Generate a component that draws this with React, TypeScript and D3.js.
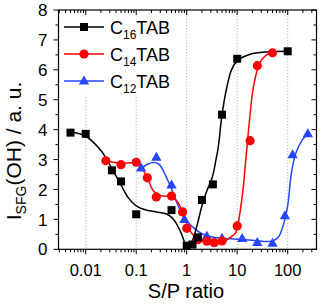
import * as d3 from "d3";

// measured points
const c16X = [0.005, 0.01, 0.033, 0.05, 0.1, 0.5, 1, 1.3, 1.66, 2, 3.3, 5, 10, 100];
const c16Y = [3.9, 3.86, 2.64, 2.27, 1.17, 1.31, 0.12, 0.16, 0.4, 1.65, 2.17, 4.5, 6.37, 6.62];

const c14X = [0.025, 0.05, 0.1, 0.166, 0.25, 0.5, 0.83, 1, 1.66, 2.5, 3.5, 5, 10, 18, 25, 50];
const c14Y = [2.96, 2.83, 2.91, 2.39, 1.75, 1.78, 1.25, 0.7, 0.32, 0.27, 0.22, 0.28, 0.78, 3.63, 6.14, 6.57];

const c12X = [0.125, 0.25, 0.5, 0.9, 2.5, 5, 12.5, 25, 50, 88, 125, 250];
const c12Y = [2.72, 3.08, 2.15, 1.0, 0.44, 0.37, 0.36, 0.23, 0.2, 1.12, 3.16, 3.86];

// fitted curves
const fit16X = [0.005, 0.01, 0.02, 0.033, 0.05, 0.07, 0.1, 0.15, 0.25, 0.4, 0.55, 0.75, 0.95, 1.05, 1.3, 1.6, 2, 2.5, 3.2, 3.8, 4.2, 5, 6.2, 7.7, 10, 18, 40, 100];
const fit16Y = [3.93, 3.78, 3.3, 2.7, 2.15, 1.72, 1.45, 1.32, 1.25, 1.18, 1.0, 0.6, 0.15, 0.03, 0.3, 0.8, 1.45, 1.95, 2.4, 3.0, 3.4, 4.5, 5.4, 6.0, 6.3, 6.52, 6.6, 6.62];

const fit14X = [0.025, 0.05, 0.1, 0.13, 0.17, 0.22, 0.3, 0.5, 0.65, 0.85, 1, 1.3, 1.7, 2.5, 4, 6, 8, 9.2, 12.3, 14.8, 17.8, 21, 28, 38, 50];
const fit14Y = [2.95, 2.88, 2.88, 2.7, 2.35, 1.95, 1.8, 1.75, 1.6, 1.2, 0.85, 0.5, 0.33, 0.25, 0.24, 0.3, 0.45, 0.53, 1.65, 2.99, 4.43, 5.44, 6.23, 6.5, 6.57];

const fit12X = [0.125, 0.17, 0.22, 0.28, 0.35, 0.45, 0.55, 0.7, 0.9, 1.3, 2, 3, 5, 10, 20, 35, 50, 65, 78, 99, 118, 144, 193, 250];
const fit12Y = [2.68, 2.85, 2.9, 2.85, 2.6, 2.2, 1.85, 1.4, 1.05, 0.75, 0.52, 0.42, 0.37, 0.34, 0.3, 0.26, 0.28, 0.4, 0.7, 1.42, 2.54, 3.2, 3.65, 3.86];

const xMajor = [0.01, 0.1, 1, 10, 100];
const xLabels = ["0.01", "0.1", "1", "10", "100"];
const yMajor = [0, 1, 2, 3, 4, 5, 6, 7, 8];

const BLACK = "#000000";
const RED = "#ff0000";
const BLUE = "#2646ff";
const FONT = "Arial, 'Liberation Sans', sans-serif";

const W = 321;
const H = 306;
const L = 58.5, R = 316.5, T = 10, B = 249.3;

type Pt = [number, number];

const App = () => {
  const x = d3.scaleLog().domain([Math.pow(10, -2.539), Math.pow(10, 2.57)]).range([L, R]);
  const y = d3.scaleLinear().domain([0, 8]).range([B, T]);

  const xTicks = x.ticks();
  const isMajor = (v: number) => Math.abs(Math.log10(v) - Math.round(Math.log10(v))) < 1e-6;
  const yMinor = d3.range(0.5, 8, 1);

  const line = d3.line<Pt>()
    .x(d => x(d[0]))
    .y(d => y(d[1]))
    .curve(d3.curveCatmullRom.alpha(0.5));

  const zip = (a: number[], b: number[]): Pt[] => a.map((v, i) => [v, b[i]]);

  const square = (cx: number, cy: number, key: string) => (
    <rect key={key} x={cx - 4} y={cy - 4} width={8} height={8} fill={BLACK} />
  );
  const circle = (cx: number, cy: number, key: string) => (
    <circle key={key} cx={cx} cy={cy} r={4.6} fill={RED} />
  );
  const triangle = (cx: number, cy: number, key: string) => (
    <path key={key} d={`M${cx},${cy - 5.5}L${cx + 5.2},${cy + 3.5}L${cx - 5.2},${cy + 3.5}Z`} fill={BLUE} />
  );

  const legend = [
    { name: "16", color: BLACK, mark: square },
    { name: "14", color: RED, mark: circle },
    { name: "12", color: BLUE, mark: triangle },
  ];

  return (
    <svg width={W} height={H} style={{ position: "absolute", left: 0, top: 0, background: "#fff" }} fontFamily={FONT}>
      {/* grid */}
      {xMajor.map(v => (
        <line key={"g" + v} x1={x(v)} x2={x(v)} y1={T} y2={B} stroke="#9aa6b0" strokeWidth={0.8} strokeDasharray="1.2,1.8" />
      ))}
      {/* legend background */}
      <rect x={L + 1} y={T + 1} width={124} height={84} fill="#fff" />
      {legend.map((l, i) => {
        const cy = 27 + i * 27;
        return (
          <g key={l.name}>
            <line x1={64} x2={104} y1={cy} y2={cy} stroke={l.color} strokeWidth={1.4} />
            {l.mark(84, cy, "lm" + i)}
            <text x={110} y={cy + 6.5} fontSize={18}>
              C<tspan fontSize={12} dy={5}>{l.name}</tspan><tspan dy={-5}>TAB</tspan>
            </text>
          </g>
        );
      })}

      {/* fit curves */}
      <path d={line(zip(fit12X, fit12Y)) || ""} fill="none" stroke={BLUE} strokeWidth={1.5} />
      <path d={line(zip(fit14X, fit14Y)) || ""} fill="none" stroke={RED} strokeWidth={1.5} />
      <path d={line(zip(fit16X, fit16Y)) || ""} fill="none" stroke={BLACK} strokeWidth={1.5} />

      {/* markers */}
      {c12X.map((v, i) => triangle(x(v), y(c12Y[i]), "t" + i))}
      {c14X.map((v, i) => circle(x(v), y(c14Y[i]), "c" + i))}
      {c16X.map((v, i) => square(x(v), y(c16Y[i]), "s" + i))}

      {/* frame */}
      <rect x={L} y={T} width={R - L} height={B - T} fill="none" stroke="#000" strokeWidth={1.2} />

      {/* x ticks: bottom outward, top inward */}
      {xTicks.map((v, i) => {
        const len = isMajor(v) ? 5 : 3;
        const px = x(v);
        return (
          <g key={"xt" + i}>
            <line x1={px} x2={px} y1={B} y2={B + len} stroke="#000" strokeWidth={1} />
            <line x1={px} x2={px} y1={T} y2={T + len} stroke="#000" strokeWidth={1} />
          </g>
        );
      })}
      {xMajor.map((v, i) => (
        <text key={"xl" + v} x={x(v)} y={276} fontSize={16.5} textAnchor="middle">{xLabels[i]}</text>
      ))}

      {/* y ticks: left outward, right inward */}
      {yMajor.map(v => (
        <g key={"yt" + v}>
          <line x1={L - 5} x2={L} y1={y(v)} y2={y(v)} stroke="#000" strokeWidth={1} />
          <line x1={R - 5} x2={R} y1={y(v)} y2={y(v)} stroke="#000" strokeWidth={1} />
          <text x={47.5} y={y(v)} dy="0.36em" fontSize={17} textAnchor="end">{v}</text>
        </g>
      ))}
      {yMinor.map(v => (
        <g key={"ym" + v}>
          <line x1={L - 3} x2={L} y1={y(v)} y2={y(v)} stroke="#000" strokeWidth={1} />
          <line x1={R - 3} x2={R} y1={y(v)} y2={y(v)} stroke="#000" strokeWidth={1} />
        </g>
      ))}

      {/* axis titles */}
      <text x={186} y={298} fontSize={20} textAnchor="middle">S/P ratio</text>
      <text transform="translate(21,151) rotate(-90)" fontSize={21} textAnchor="middle">
        I<tspan fontSize={14} dy={5}>SFG</tspan><tspan dy={-5}>(OH) / a. u.</tspan>
      </text>
    </svg>
  );
};

export default App;
